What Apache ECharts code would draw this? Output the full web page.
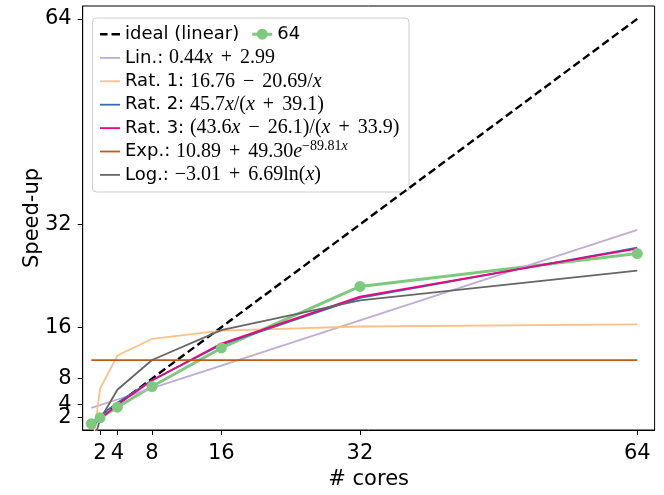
<!DOCTYPE html>
<html>
<head>
<meta charset="utf-8">
<script src="https://cdn.jsdelivr.net/npm/echarts@6/dist/echarts.min.js"></script>
<style>
  html, body { margin: 0; padding: 0; background: #fff; }
  #chart { width: 664px; height: 495px; }
</style>
</head>
<body>
<div id="chart"></div>
<script>
// Number of cores used in each run
const cores = [1, 2, 4, 8, 16, 32, 64];
// Tick positions shown on both axes
const tickValues = [2, 4, 8, 16, 32, 64];

// Perfect scaling reference
const ideal = [1, 2, 4, 8, 16, 32, 64];
// Measured speed-up (64-core problem)
const measured64 = [0.96, 1.9, 3.55, 6.77, 12.77, 22.35, 27.47];

// Fitted models evaluated at each core count
const fitLin  = [3.43, 3.87, 4.75, 6.51, 10.03, 17.07, 31.15];
const fitRat1 = [-3.93, 6.415, 11.588, 14.174, 15.467, 16.113, 16.437];
const fitRat2 = [1.140, 2.224, 4.241, 7.762, 13.270, 20.568, 28.369];
const fitRat3 = [0.501, 1.702, 3.913, 7.702, 13.457, 20.775, 28.236];
const fitExp  = [10.89, 10.89, 10.89, 10.89, 10.89, 10.89, 10.89];
const fitLog  = [-3.01, 1.627, 6.264, 10.901, 15.539, 20.176, 24.813];

const NAMES = {
  ideal: 'ideal (linear)',
  m64: '64',
  lin: 'Lin.: 0.44x + 2.99',
  rat1: 'Rat. 1: 16.76 - 20.69/x',
  rat2: 'Rat. 2: 45.7x/(x + 39.1)',
  rat3: 'Rat. 3: (43.6x - 26.1)/(x + 33.9)',
  exp: 'Exp.: 10.89 + 49.30e^(-89.81x)',
  log: 'Log.: -3.01 + 6.69ln(x)'
};

// Legend labels with the formulas typeset in a serif face
const richLabels = {};
richLabels[NAMES.lin]  = '{s|Lin.: }{m|0.44}{i|x}{op|+}{m|2.99}';
richLabels[NAMES.rat1] = '{s|Rat. 1: }{m|16.76}{op|−}{m|20.69/}{i|x}';
richLabels[NAMES.rat2] = '{s|Rat. 2: }{m|45.7}{i|x}{m|/(}{i|x}{op|+}{m|39.1)}';
richLabels[NAMES.rat3] = '{s|Rat. 3: }{m|(43.6}{i|x}{op|−}{m|26.1)/(}{i|x}{op|+}{m|33.9)}';
richLabels[NAMES.exp]  = '{s|Exp.: }{m|10.89}{op|+}{m|49.30}{i|e}{sup|−89.81}{supi|x}';
richLabels[NAMES.log]  = '{s|Log.: }{m|−3.01}{op|+}{m|6.69ln(}{i|x}{m|)}';

const ROW = 23.4;
const SANS = 'DejaVu Sans';
const SERIF = 'Liberation Serif';
const rich = {
  s:    { fontFamily: SANS,  fontSize: 18, lineHeight: ROW, color: '#000' },
  m:    { fontFamily: SERIF, fontSize: 20, lineHeight: ROW, color: '#000' },
  i:    { fontFamily: SERIF, fontSize: 20, lineHeight: ROW, fontStyle: 'italic', color: '#000' },
  op:   { fontFamily: SERIF, fontSize: 20, lineHeight: ROW, padding: [0, 8, 0, 8], color: '#000' },
  sup:  { fontFamily: SERIF, fontSize: 14, lineHeight: 12, verticalAlign: 'top', color: '#000' },
  supi: { fontFamily: SERIF, fontSize: 14, lineHeight: 12, verticalAlign: 'top', fontStyle: 'italic', color: '#000' }
};

// Legend handles: plain stroke, dashed stroke, stroke with a round marker
const ICON_LINE = 'path://M0,0h20v1.8h-20z';
const ICON_DASH = 'path://M0,0h7.5v2.4h-7.5z M11.5,0h8.5v2.4h-8.5z';
const ICON_MARK = 'path://M0,4h20v3h-20z M15.5,5.5A5.5,5.5 0 1 1 4.5,5.5A5.5,5.5 0 1 1 15.5,5.5z';

function pairs(ys) {
  return cores.map((c, k) => [c, ys[k]]);
}

function fitSeries(name, ys, color) {
  return {
    name: name,
    type: 'line',
    data: pairs(ys),
    showSymbol: false,
    symbol: 'none',
    lineStyle: { color: color, width: 1.8 },
    itemStyle: { color: color },
    clip: true,
    silent: true
  };
}

const chart = echarts.init(document.getElementById('chart'), null, { renderer: 'canvas' });

const tickFont = { fontFamily: SANS, fontSize: 21, color: '#000' };

const axisCommon = {
  type: 'value',
  min: 0,
  max: 66,
  splitLine: { show: false },
  axisLine: { show: true, onZero: false, lineStyle: { color: '#000', width: 1 } },
  axisTick: { show: true, inside: false, length: 5, customValues: tickValues, lineStyle: { color: '#000', width: 1 } },
  nameLocation: 'middle',
  nameMoveOverlap: false,
  nameTextStyle: { fontFamily: SANS, fontSize: 21, color: '#000' }
};

chart.setOption({
  animation: false,
  backgroundColor: '#fff',
  grid: {
    left: 82.7, right: 9.4, top: 6, bottom: 62,
    show: true, borderColor: '#000', borderWidth: 1, backgroundColor: 'transparent'
  },
  xAxis: Object.assign({}, axisCommon, {
    name: '# cores',
    nameGap: 39,
    axisLabel: Object.assign({ customValues: tickValues, margin: 13, hideOverlap: false }, tickFont)
  }),
  yAxis: [
    Object.assign({}, axisCommon, {
      name: 'Speed-up',
      nameGap: 40,
      axisLabel: Object.assign({ customValues: tickValues.slice(1), margin: 11, hideOverlap: false }, tickFont)
    }),
    // the "2" label sits right against "4", so it gets its own label layer
    {
      type: 'value',
      position: 'left',
      min: 0,
      max: 66,
      splitLine: { show: false },
      axisLine: { show: false, onZero: false },
      axisTick: { show: false },
      axisLabel: Object.assign({ customValues: [tickValues[0]], margin: 11, hideOverlap: false }, tickFont)
    }
  ],
  graphic: [{
    type: 'rect',
    z: 3,
    shape: { x: 92.5, y: 18, width: 316.5, height: 174, r: 4 },
    style: { fill: 'rgba(255,255,255,0.8)', stroke: '#cccccc', lineWidth: 1 }
  }],
  legend: [
    {
      orient: 'horizontal',
      left: 100, top: 22.5,
      padding: 0,
      itemGap: 13,
      itemWidth: 20, itemHeight: 12,
      selectedMode: false,
      data: [
        { name: NAMES.ideal, icon: ICON_DASH },
        { name: NAMES.m64, icon: ICON_MARK }
      ],
      textStyle: { fontFamily: SANS, fontSize: 18, lineHeight: ROW, color: '#000' }
    },
    {
      orient: 'vertical',
      left: 100, top: 46.2,
      padding: 0,
      itemGap: 0,
      itemWidth: 20, itemHeight: 12,
      selectedMode: false,
      icon: ICON_LINE,
      data: [NAMES.lin, NAMES.rat1, NAMES.rat2, NAMES.rat3, NAMES.exp, NAMES.log],
      formatter: function (name) { return richLabels[name] || name; },
      textStyle: { fontFamily: SANS, fontSize: 18, lineHeight: ROW, color: '#000', rich: rich }
    }
  ],
  series: [
    {
      name: NAMES.ideal,
      type: 'line',
      data: pairs(ideal),
      showSymbol: false,
      symbol: 'none',
      lineStyle: { color: '#000', width: 2.4, type: [8, 4] },
      itemStyle: { color: '#000' },
      clip: true,
      silent: true
    },
    {
      name: NAMES.m64,
      type: 'line',
      data: pairs(measured64),
      symbol: 'circle',
      symbolSize: 11,
      showSymbol: true,
      lineStyle: { color: '#7fc97f', width: 3 },
      itemStyle: { color: '#7fc97f' },
      clip: true,
      silent: true
    },
    fitSeries(NAMES.lin,  fitLin,  '#beaed4'),
    fitSeries(NAMES.rat1, fitRat1, '#fdc086'),
    fitSeries(NAMES.rat2, fitRat2, '#386cb0'),
    fitSeries(NAMES.rat3, fitRat3, '#f0027f'),
    fitSeries(NAMES.exp,  fitExp,  '#bf5b17'),
    fitSeries(NAMES.log,  fitLog,  '#666666')
  ]
});
</script>
</body>
</html>
